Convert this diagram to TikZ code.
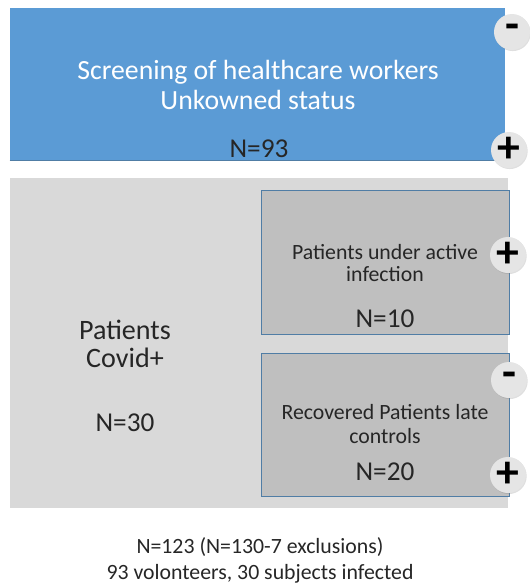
\documentclass[tikz,border=0pt]{standalone}
\usepackage{fontspec}
\setmainfont{Carlito}
\usepackage{tikz}
\usetikzlibrary{positioning, shadows}
\definecolor{azul}{RGB}{91,155,213}
\definecolor{bordeazul}{RGB}{80,125,165}
\definecolor{grisclaro}{RGB}{217,217,217}
\definecolor{grismedio}{RGB}{191,191,191}
\definecolor{texto}{RGB}{38,38,38}
\tikzset{
	x=0.02cm, y=-0.02cm, % Un pixel de la imagen
	caja/.style={rectangle, inner sep=0pt}, % Cajas rectangulares
	grupo/.style={caja, draw=bordeazul, line width=0.5pt, fill=grismedio}, % Subgrupos
	signo/.style={circle, fill=gray!20, minimum size=0.72cm, inner sep=0pt, font=\fontsize{26}{26}\selectfont\bfseries, drop shadow={opacity=0.25, shadow xshift=0.4pt, shadow yshift=-0.6pt}}, % Circulos + y -
	etiqueta/.style={text=texto, align=center} % Textos
}

\begin{document}
\begin{tikzpicture}
			\useasboundingbox (0,0) rectangle (529,586);
			\node[caja, fill=azul, minimum width=9.9cm, minimum height=3.04cm] (cribado) at (257.5,84) {};
			\draw[bordeazul, line width=0.6pt] (cribado.south west) -- (cribado.south east);
			\node[caja, fill=grisclaro, minimum width=9.96cm, minimum height=6.6cm] (covid) at (259,343) {};
			\node[grupo, minimum width=4.96cm, minimum height=2.88cm] (activa) at (385,262) {};
			\node[grupo, minimum width=4.96cm, minimum height=2.86cm] (recuperados) at (385,424.5) {};
			\node[etiqueta, text=white, font=\fontsize{15.8}{17.5}\selectfont] (titulo) at (258,85) {Screening of healthcare workers\\Unkowned status};
			\node[etiqueta, font=\fontsize{15.5}{16}\selectfont] (n93) at (259,149) {N=93};
			\node[etiqueta, font=\fontsize{16}{16}\selectfont] (pacientes) at (125,344) {Patients\\Covid+};
			\node[etiqueta, font=\fontsize{15.5}{16}\selectfont] (n30) at (125,423) {N=30};
			\node[etiqueta, font=\fontsize{12.4}{13}\selectfont] (txtactiva) at (385,263) {Patients under active\\infection};
			\node[etiqueta, font=\fontsize{15.5}{16}\selectfont] (n10) at (385,319) {N=10};
			\node[etiqueta, font=\fontsize{12.4}{14}\selectfont] (txtrecup) at (385,424) {Recovered Patients late\\controls};
			\node[etiqueta, font=\fontsize{15.5}{16}\selectfont] (n20) at (385,472) {N=20};
			\node[signo] (menos1) at (512,32) {-};
			\node[signo] (mas1) at (509,150) {+};
			\node[signo] (mas2) at (508,255) {+};
			\node[signo] (menos2) at (509,380) {-};
			\node[signo] (mas3) at (508,475) {+};
			\node[etiqueta, font=\fontsize{12.4}{14.8}\selectfont] (resumen) at (260,560) {N=123 (N=130-7 exclusions)\\93 volonteers, 30 subjects infected};
			\end{tikzpicture}
\end{document}
